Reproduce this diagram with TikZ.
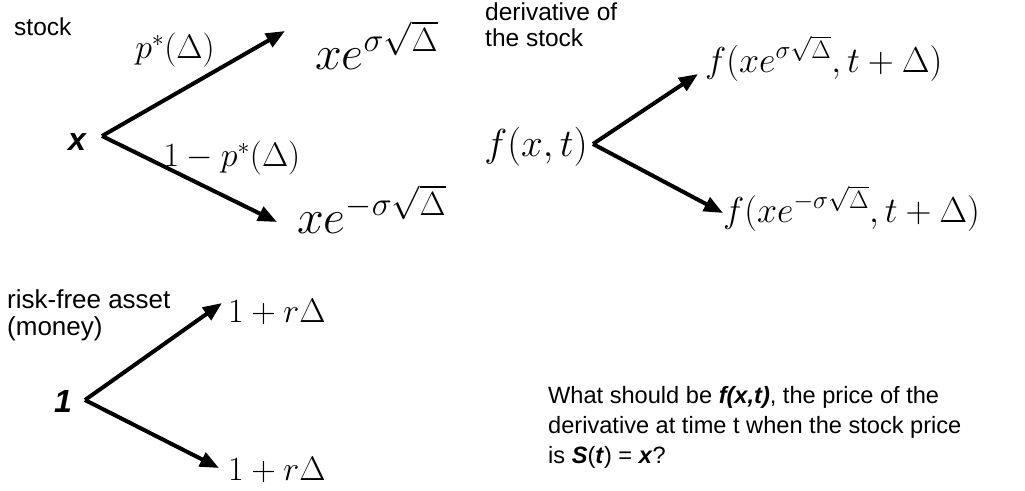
\documentclass[tikz,border=0pt]{standalone}
\usepackage{fix-cm}
\usepackage[no-math]{fontspec}
\setmainfont{Liberation Serif}
\setsansfont{Liberation Sans}
\usetikzlibrary{arrows.meta,positioning}

\begin{document}
\begin{tikzpicture}[
  x=1pt,y=-1pt,
  >={Triangle[length=19pt,width=15pt]},
  branch/.style={->,line width=4pt},
  txtlabel/.style={font=\fontsize{24.5}{26}\selectfont\sffamily,align=left,inner sep=0pt},
  rootlbl/.style={font=\fontsize{32}{36}\selectfont\sffamily\bfseries\itshape,inner sep=0pt},
  bigmath/.style={font=\fontsize{48}{56}\selectfont,inner sep=0pt},
  midmath/.style={font=\fontsize{39}{44}\selectfont,inner sep=0pt},
  endmath/.style={font=\fontsize{36}{40}\selectfont,inner sep=0pt},
  probmath/.style={font=\fontsize{34}{38}\selectfont,inner sep=0pt},
  qtext/.style={font=\fontsize{23.6}{30}\selectfont\sffamily,align=left,inner sep=0pt}
]
\useasboundingbox (0,0) rectangle (1025,490);

% ---- stock tree ----
\node[txtlabel,anchor=west] (stocklbl) at (14,27) {stock};
\node[rootlbl] (xroot) at (77,142) {x};
\coordinate (xfork) at (102,136);
\coordinate (xuptip) at (285,31);
\coordinate (xdowntip) at (277,222);
\node[bigmath,anchor=base west] (xup) at (315,69) {$xe^{\sigma\sqrt{\Delta}}$};
\node[bigmath,anchor=base west] (xdown) at (297,233) {$xe^{-\sigma\sqrt{\Delta}}$};
\node[probmath] (pup) at (175,50) {$p^*(\Delta)$};
\node[probmath] (pdown) at (232,158) {$1-p^*(\Delta)$};

\draw[branch] (xfork) -- (xuptip);
\draw[branch] (xfork) -- (xdowntip);

% ---- derivative tree ----
\node[txtlabel,anchor=north west] (derivlbl) at (485,3) {derivative of\\the stock};
\node[midmath] (fxt) at (536,147) {$f(x,t)$};
\coordinate (ffork) at (593,144);
\coordinate (fuptip) at (698,74);
\coordinate (fdowntip) at (723,213);
\node[endmath,anchor=base west] (fup) at (705,72) {$f(xe^{\sigma\sqrt{\Delta}},t+\Delta)$};
\node[endmath,anchor=base west] (fdown) at (723,222) {$f(xe^{-\sigma\sqrt{\Delta}},t+\Delta)$};

\draw[branch] (ffork) -- (fuptip);
\draw[branch] (ffork) -- (fdowntip);

% ---- risk-free tree ----
\node[txtlabel,font=\fontsize{26}{27}\selectfont\sffamily,anchor=base west] (moneylbl) at (7,335) {risk-free asset\\(money)};
\node[rootlbl] (oneroot) at (63,401) {1};
\coordinate (onefork) at (85,400);
\coordinate (oneuptip) at (222,303);
\coordinate (onedowntip) at (219,468);
\node[probmath,anchor=base west] (rup) at (228,322) {$1+r\Delta$};
\node[probmath,anchor=base west] (rdown) at (228,480) {$1+r\Delta$};

\draw[branch] (onefork) -- (oneuptip);
\draw[branch] (onefork) -- (onedowntip);

% ---- question ----
\node[qtext,anchor=base west] (question) at (548,463) {%
  What should be \textbf{\textit{f(x,t)}}, the price of the\\
  derivative at time t when the stock price\\
  is \textbf{\textit{S}}(\textbf{\textit{t}}) = \textbf{\textit{x}}?};

\end{tikzpicture}
\end{document}
